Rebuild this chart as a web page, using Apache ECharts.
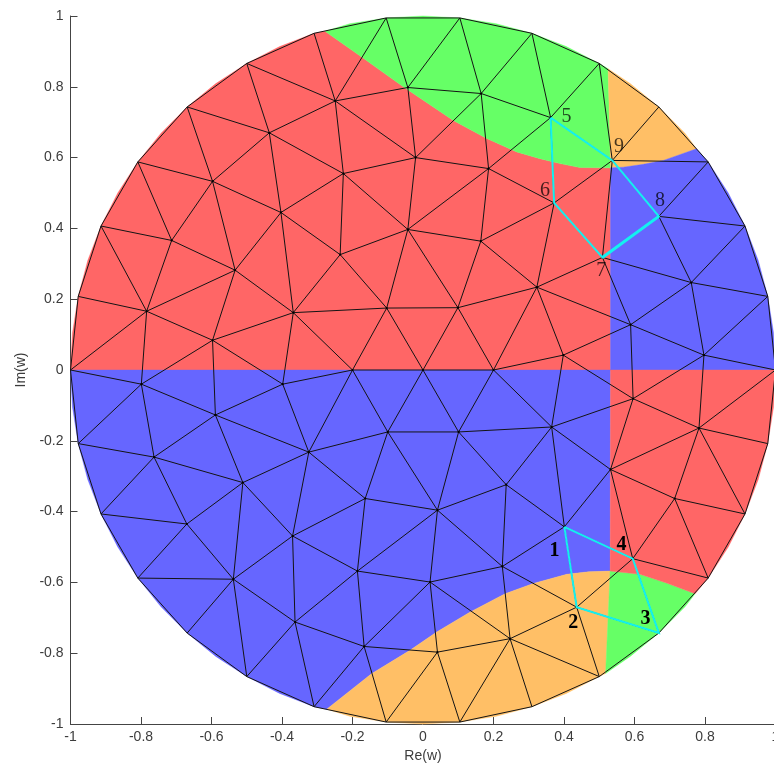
<!DOCTYPE html>
<html>
<head>
<meta charset="utf-8">
<style>html,body{margin:0;padding:0;background:#fff;overflow:hidden}#c{width:774px;height:765px}</style>
<script src="https://cdn.jsdelivr.net/npm/echarts@6/dist/echarts.min.js"></script>
</head>
<body>
<div id="c"></div>
<script>
// Unit-circle rim, one point every 6 degrees
const rim = [
[1,0],[.9945,.1045],[.9781,.2079],[.9511,.309],[.9135,.4067],[.866,.5],[.809,.5878],[.7431,.6691],[.6691,.7431],[.5878,.809],
[.5,.866],[.4067,.9135],[.309,.9511],[.2079,.9781],[.1045,.9945],[0,1],[-.1045,.9945],[-.2079,.9781],[-.309,.9511],[-.4067,.9135],
[-.5,.866],[-.5878,.809],[-.6691,.7431],[-.7431,.6691],[-.809,.5878],[-.866,.5],[-.9135,.4067],[-.9511,.309],[-.9781,.2079],[-.9945,.1045],
[-1,0],[-.9945,-.1045],[-.9781,-.2079],[-.9511,-.309],[-.9135,-.4067],[-.866,-.5],[-.809,-.5878],[-.7431,-.6691],[-.6691,-.7431],[-.5878,-.809],
[-.5,-.866],[-.4067,-.9135],[-.309,-.9511],[-.2079,-.9781],[-.1045,-.9945],[0,-1],[.1045,-.9945],[.2079,-.9781],[.309,-.9511],[.4067,-.9135],
[.5,-.866],[.5878,-.809],[.6691,-.7431],[.7431,-.6691],[.809,-.5878],[.866,-.5],[.9135,-.4067],[.9511,-.309],[.9781,-.2079],[.9945,-.1045]
];
// Region boundaries
const arcUpperLeft = [[-.278,.957],[-.174,.884],[-.056,.8],[.086,.705],[.181,.654],[.266,.616],[.332,.597],[.389,.583],[.445,.572],[.532,.571]];
const arcUpperRight = [[.532,.571],[.568,.573],[.625,.581],[.682,.592],[.776,.625]];
const arcLower = [[-.273,-.958],[-.146,-.858],[-.037,-.792],[.039,-.74],[.133,-.684],[.233,-.632],[.313,-.603],[.408,-.577],[.47,-.57],[.531,-.568]];
const arcLowerRight = [[.531,-.568],[.616,-.577],[.691,-.602],[.772,-.632]];
const seamUpper = [[.525,.851],[.53,.668],[.532,.571]];
const seamLower = [[.518,-.857],[.525,-.702],[.531,-.568]];

const regionColors = ['#FF6666','#66FF66','#FFBF66','#6666FF','#6666FF','#FFBF66','#66FF66','#FF6666'];
const rimRange = (a, b) => { const o = []; if (a <= b) for (let i = a; i <= b; i++) o.push(rim[i % 60]); else for (let i = a; i >= b; i--) o.push(rim[i % 60]); return o; };
const rev = a => a.slice().reverse();
const regionOutlines = [
  [...rimRange(30,18), ...arcUpperLeft, [.532,0]],
  [...rimRange(17,10), ...seamUpper, ...rev(arcUpperLeft)],
  [...rimRange(9,7), ...rev(arcUpperRight), ...rev(seamUpper)],
  [...arcUpperRight, ...rimRange(6,0), [.532,0]],
  [...rimRange(30,42), ...arcLower, [.532,0]],
  [...rimRange(43,50), ...seamLower, ...rev(arcLower)],
  [...rimRange(51,53), ...rev(arcLowerRight), ...rev(seamLower)],
  [[.532,0], ...rimRange(60,54), ...rev(arcLowerRight)]
];

// Interior mesh nodes [Re, Im]
const meshNodes = {
a1:[-.784,.166],a2:[-.597,.084],a3:[-.368,.162],a4:[-.2,0],a5:[-.103,.175],a6:[-.533,.282],a7:[-.713,.366],a8:[-.597,.533],a9:[-.403,.445],a10:[-.235,.326],a11:[-.436,.67],a12:[-.226,.555],a13:[-.249,.76],
b1:[-.043,.798],b2:[.165,.781],b3:[.362,.713],b4:[-.021,.6],b5:[.186,.569],b6:[.537,.592],b7:[.372,.472],b8:[-.043,.397],b9:[.164,.364],b10:[.509,.318],b11:[.669,.434],b12:[.323,.234],b13:[.099,.176],b15:[.761,.247],b16:[.589,.128],b17:[.797,.042],b18:[.398,.042],b19:[0,0],b20:[.2,0],
c1:[-.799,-.04],c2:[-.589,-.127],c3:[-.398,-.04],c4:[-.324,-.232],c5:[-.1,-.175],c6:[-.763,-.246],c7:[-.511,-.318],c8:[-.164,-.363],c9:[-.37,-.469],c10:[-.67,-.435],c11:[-.186,-.568],c12:[-.538,-.591],c13:[-.363,-.712],c14:[-.167,-.781],
d2:[.101,-.175],d3:[.365,-.161],d4:[.596,-.081],d5:[.783,-.164],d6:[.532,-.281],d7:[.236,-.324],d8:[.041,-.396],d9:[.714,-.363],d10:[.401,-.443],d11:[.595,-.533],d12:[.225,-.555],d13:[.02,-.599],d14:[.436,-.67],d15:[.247,-.759],d16:[.041,-.797]
};
// Mesh links: node, then the nodes it joins (rN = rim point N)
const meshLinks = [
['a1','r30 r28 r26 a2 a6 a7 c1'],['a7','r26 r24 a6 a8'],['a8','r24 r22 a6 a9 a11'],['a11','r22 r20 a9 a12 a13'],['a13','r20 r18 r16 a12 b1 b4'],
['a12','b4 b8 a9 a10'],['a9','a6 a3 a10'],['a6','a2 a3'],['a2','a3 c1 c2 c3'],['a3','a10 a4 a5 c3'],['a10','b8 a5'],['a5','a4 b19 b13 b8'],['a4','b19 c3 c4 c5'],
['b1','r16 r14 b2 b4'],['b2','r14 r12 b3 b4 b5'],['b3','r12 r10 b5 b6 b7'],['b4','b5 b8'],['b5','b8 b9 b7'],['b8','b9 b13'],['b9','b7 b12 b13'],['b7','b6 b10 b12'],
['b6','r10 r8 r6 b10 b11'],['b11','r6 r4 b15 b10'],['b10','b12 b15 b16'],['b15','r4 r2 b17 b16'],['b16','b17 b12 b18 d4'],['b17','r2 r0 d4 d5'],['b12','b13 b18 b20'],['b13','b19 b20'],['b18','b20 d3 d4'],['b19','b20 d2 c5'],['b20','d2 d3'],
['c1','r30 r32 c2 c6'],['c2','c3 c4 c6 c7'],['c3','c4'],['c4','c5 c7 c8 c9'],['c5','c8 d2 d8'],['c6','r32 r34 c10 c7'],['c7','c9 c10 c12'],['c8','c9 c11 d8'],['c9','c11 c12 c13'],['c10','r34 r36 c12'],['c11','c13 c14 d13 d8'],['c12','r36 r38 r40 c13'],['c13','r40 r42 c14'],['c14','r42 r44 d16 d13'],
['d16','r44 r46 d13 d15'],['d15','r46 r48 r50 d13 d12 d14'],['d13','d8 d12'],['d12','d7 d8 d10 d14'],['d8','d2 d7'],['d7','d2 d3 d10'],['d3','d2 d4 d6 d10'],['d4','d5 d6'],['d5','r0 r58 r56 d6 d9'],['d6','d9 d10 d11'],['d9','r56 r54 d11'],['d10','d11 d14'],['d11','d14 r52 r54'],['d14','r50 r52']
];
const meshRing = ['r0','r2','r4','r6','r8','r10','r12','r14','r16','r18','r20','r22','r24','r26','r28','r30','r32','r34','r36','r38','r40','r42','r44','r46','r48','r50','r52','r54','r56','r58','r0'];

const cyanLower = ['d10','d14','r52','d11','d10'];
const cyanUpper = ['b3','b7','b10','b11','b6','b3'];
const cyanHeavy = ['b10','b11'];

const cornerNames = ['1','2','3','4','5','6','7','8','9'];
const cornerSpots = [[.373,-.511],[.426,-.715],[.631,-.703],[.563,-.495],[.407,.714],[.346,.507],[.506,.279],[.672,.477],[.556,.632]];

const tickStep = 0.2;
const xAxisTitle = 'Re(w)';
const yAxisTitle = 'Im(w)';

const pt = k => k[0] === 'r' ? rim[+k.slice(1)] : meshNodes[k];
const meshEdges = [];
meshLinks.forEach(([a, list]) => list.split(' ').forEach(b => meshEdges.push([a, b])));
for (let i = 0; i < meshRing.length - 1; i++) meshEdges.push([meshRing[i], meshRing[i + 1]]);
const nodeKeys = Object.keys(meshNodes);
const cyanPaths = [cyanLower, cyanUpper, cyanHeavy];

const axisCommon = {
  type: 'value', min: -1, max: 1, interval: tickStep, nameLocation: 'middle',
  splitLine: {show: false},
  axisLine: {show: true, onZero: false, lineStyle: {color: '#444', width: 1}},
  axisTick: {show: true, inside: true, length: 7, lineStyle: {color: '#444', width: 1}},
  nameTextStyle: {color: '#3c3c3c', fontFamily: 'Liberation Sans', fontSize: 14},
  axisLabel: {color: '#3c3c3c', fontFamily: 'Liberation Sans', fontSize: 14, showMinLabel: true, showMaxLabel: true}
};

const chart = echarts.init(document.getElementById('c'), null, {renderer: 'canvas'});
chart.setOption({
  animation: false,
  backgroundColor: '#fff',
  tooltip: {show: false},
  grid: {left: 70.5, top: 16, width: 705, height: 708, containLabel: false, outerBoundsMode: 'none'},
  xAxis: Object.assign({}, axisCommon, {name: xAxisTitle, nameGap: 25, axisLabel: Object.assign({}, axisCommon.axisLabel, {margin: 6})}),
  yAxis: Object.assign({}, axisCommon, {name: yAxisTitle, nameGap: 37, axisLabel: Object.assign({}, axisCommon.axisLabel, {margin: 7})}),
  series: [
    {
      type: 'custom', coordinateSystem: 'cartesian2d', clip: false, silent: true, z: 1,
      data: regionOutlines.map((o, i) => [o[0][0], o[0][1], i]),
      renderItem: (p, api) => ({
        type: 'polygon',
        shape: {points: regionOutlines[p.dataIndex].map(q => api.coord(q))},
        style: {fill: regionColors[p.dataIndex], stroke: regionColors[p.dataIndex], lineWidth: 0.4}
      })
    },
    {
      type: 'custom', coordinateSystem: 'cartesian2d', clip: false, silent: true, z: 2,
      data: meshEdges.map(e => pt(e[0])),
      renderItem: (p, api) => {
        const e = meshEdges[p.dataIndex], a = api.coord(pt(e[0])), b = api.coord(pt(e[1]));
        return {type: 'line', shape: {x1: a[0], y1: a[1], x2: b[0], y2: b[1]}, style: {stroke: '#141414', lineWidth: 1, fill: null}};
      }
    },
    {
      type: 'custom', coordinateSystem: 'cartesian2d', clip: false, silent: true, z: 2,
      data: nodeKeys.map(k => meshNodes[k]),
      renderItem: (p, api) => {
        const c = api.coord(meshNodes[nodeKeys[p.dataIndex]]);
        return {type: 'circle', shape: {cx: c[0], cy: c[1], r: 1.1}, style: {fill: '#000'}};
      }
    },
    {
      type: 'custom', coordinateSystem: 'cartesian2d', clip: false, silent: true, z: 3,
      data: cyanPaths.map(path => pt(path[0])),
      renderItem: (p, api) => ({
        type: 'polyline',
        shape: {points: cyanPaths[p.dataIndex].map(k => api.coord(pt(k)))},
        style: {stroke: '#14F0F0', lineWidth: p.dataIndex === 2 ? 3 : 2, fill: null}
      })
    },
    {
      type: 'custom', coordinateSystem: 'cartesian2d', clip: false, silent: true, z: 4,
      data: cornerSpots,
      renderItem: (p, api) => {
        const c = api.coord(cornerSpots[p.dataIndex]), low = p.dataIndex < 4;
        return {
          type: 'text', x: c[0], y: c[1],
          style: {
            text: cornerNames[p.dataIndex], align: 'center', verticalAlign: 'middle',
            font: (low ? 'bold ' : '') + '20px "Liberation Serif"',
            fill: low ? '#000' : 'rgba(0,0,0,0.72)'
          }
        };
      }
    }
  ]
});
</script>
</body>
</html>
